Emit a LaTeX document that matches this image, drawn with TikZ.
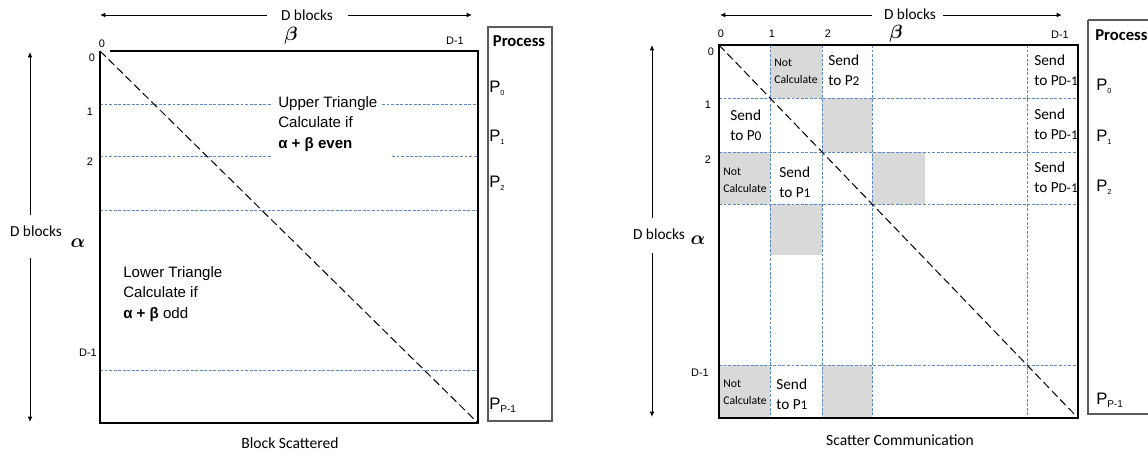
\documentclass[tikz,border=0pt]{standalone}
\usepackage{amsmath}
\usepackage{fontspec}
\setmainfont{Carlito}
\newfontfamily\arialf{Liberation Sans}
\usetikzlibrary{arrows.meta}
\definecolor{gridblue}{RGB}{91,137,203}
\definecolor{cellgray}{RGB}{217,217,217}
\definecolor{boxgray}{RGB}{90,90,90}
\newcommand\procP[1]{P\raisebox{-0.35ex}{\fontsize{5.5}{5.5}\selectfont #1}}
\newcommand\procPl[1]{P\raisebox{-0.3ex}{\fontsize{7.5}{7.5}\selectfont #1}}
\newcommand\toP[1]{to P{\fontsize{10}{10}\selectfont #1}}
\begin{document}
\begin{tikzpicture}[x=0.75pt,y=-0.75pt,
  lbl/.style={inner sep=0pt, font=\arialf\fontsize{8.2}{9}\selectfont},
  dtxt/.style={inner sep=0pt, font=\fontsize{11.5}{13}\selectfont},
  sendtxt/.style={inner sep=0pt, anchor=west, align=left, font=\fontsize{11.5}{15}\selectfont},
  nottxt/.style={inner sep=0pt, anchor=west, align=left, font=\fontsize{8.8}{12.75}\selectfont},
  tritxt/.style={inner sep=0pt, anchor=west, align=left, font=\arialf\fontsize{11.3}{15.5}\selectfont},
  proctxt/.style={inner sep=0pt, font=\bfseries\fontsize{12.5}{14}\selectfont},
  ptxt/.style={inner sep=0pt, anchor=west, font=\arialf\fontsize{12.5}{14}\selectfont},
  captxt/.style={inner sep=0pt, font=\fontsize{11.7}{13}\selectfont},
  grk/.style={inner sep=0pt, font=\fontsize{14}{14}\selectfont},
  blk/.style={line width=1.5pt, line join=miter},
  gridl/.style={gridblue, line width=0.75pt, dash pattern=on 2.2pt off 1.2pt},
  diag/.style={black, line width=0.75pt, dash pattern=on 6pt off 3pt},
  axarrow/.style={line width=0.75pt, -{Latex[length=4pt,width=3.5pt]}},
  procbox/.style={draw=boxgray, line width=0.8pt}
]
\useasboundingbox (0,0) rectangle (1148,457);

% ================= LEFT DIAGRAM =================
\coordinate (LTL) at (100,51);
\coordinate (LTR) at (478,51);
\coordinate (LBR) at (478,423);
\coordinate (LBL) at (100,423);

% blue dashed rows
\draw[gridl] (100,104) -- (271,104);
\draw[gridl] (382,104) -- (478,104);
\draw[gridl] (100,156) -- (271,156);
\draw[gridl] (392,156) -- (478,156);
\draw[gridl] (100,210) -- (478,210);
\draw[gridl] (100,370) -- (478,370);

% diagonal
\draw[diag] (LTL) -- (LBR);

% square border
\draw[blk] (110,51) -- (LTR) -- (LBR) -- (LBL) -- (LTL);

% top axis
\node[dtxt] (ldtop) at (307,15) {D blocks};
\coordinate (ltA1) at (267,15);
\coordinate (ltA2) at (100,15);
\coordinate (ltB1) at (348,15);
\coordinate (ltB2) at (472,15);
\draw[axarrow] (ltA1) -- (ltA2);
\draw[axarrow] (ltB1) -- (ltB2);
\node[grk] (lbeta) at (291,36) {$\boldsymbol{\beta}$};
\node[lbl] (lc0) at (102,44) {0};
\node[lbl] (lcD) at (455,41) {D-1};

% left axis
\node[dtxt] (ldleft) at (36,231) {D blocks};
\node[grk] (lalpha) at (78,243) {$\boldsymbol{\alpha}$};
\coordinate (llA1) at (30,215);
\coordinate (llA2) at (30,52);
\coordinate (llB1) at (30,258);
\coordinate (llB2) at (30,422);
\draw[axarrow] (llA1) -- (llA2);
\draw[axarrow] (llB1) -- (llB2);
\node[lbl] (lr0) at (92,58) {0};
\node[lbl] (lr1) at (90,112) {1};
\node[lbl] (lr2) at (90,162) {2};
\node[lbl] (lrD) at (88,353) {D-1};

% triangle texts
\node[tritxt] (lupper) at (278,124) {Upper Triangle\\Calculate if\\\textbf{α + β even}};
\node[tritxt] (llower) at (123,294) {Lower Triangle\\Calculate if\\\textbf{α + β} odd};

% process box
\draw[procbox] (488,27) rectangle (552,421);
\node[proctxt] (lproc) at (519,41) {Process};
\node[ptxt] (lp0) at (489,88) {\procP{0}};
\node[ptxt] (lp1) at (489,137) {\procP{1}};
\node[ptxt] (lp2) at (489,183) {\procP{2}};
\node[ptxt] (lpP) at (489,405) {\procPl{P-1}};

\node[captxt] (lcap) at (290,443) {Block Scattered};

% ================= RIGHT DIAGRAM =================
\coordinate (RTL) at (719,45);
\coordinate (RTR) at (1078,45);
\coordinate (RBR) at (1078,418);
\coordinate (RBL) at (719,418);

% gray cells
\fill[cellgray] (770,45) rectangle (822,98);
\fill[cellgray] (822,98) rectangle (872,152);
\fill[cellgray] (719,152) rectangle (770,204);
\fill[cellgray] (872,152) rectangle (925,204);
\fill[cellgray] (770,204) rectangle (822,255);
\fill[cellgray] (719,365) rectangle (770,418);
\fill[cellgray] (822,365) rectangle (872,418);

% grid
\foreach \gx in {770,822,872,1027} {\draw[gridl] (\gx,45) -- (\gx,418);}
\foreach \gy in {98,152,204,365} {\draw[gridl] (719,\gy) -- (1078,\gy);}

% diagonal
\draw[diag] (RTL) -- (RBR);

% border
\draw[blk] (RTR) -- (RBR) -- (RBL) -- (RTL) -- cycle;

% top axis
\node[dtxt] (rdtop) at (910,14) {D blocks};
\coordinate (rtA1) at (872,15);
\coordinate (rtA2) at (720,15);
\coordinate (rtB1) at (943,15);
\coordinate (rtB2) at (1062,15);
\draw[axarrow] (rtA1) -- (rtA2);
\draw[axarrow] (rtB1) -- (rtB2);
\node[grk] (rbeta) at (896,34) {$\boldsymbol{\beta}$};
\node[lbl] (rc0) at (721,34) {0};
\node[lbl] (rc1) at (772,34) {1};
\node[lbl] (rc2) at (828,34) {2};
\node[lbl] (rcD) at (1060,35) {D-1};

% left axis
\node[dtxt] (rdleft) at (659,234) {D blocks};
\node[grk] (ralpha) at (698,240) {$\boldsymbol{\alpha}$};
\coordinate (rlA1) at (652,218);
\coordinate (rlA2) at (652,45);
\coordinate (rlB1) at (652,253);
\coordinate (rlB2) at (652,417);
\draw[axarrow] (rlA1) -- (rlA2);
\draw[axarrow] (rlB1) -- (rlB2);
\node[lbl] (rr0) at (711,52) {0};
\node[lbl] (rr1) at (708,105) {1};
\node[lbl] (rr2) at (708,160) {2};
\node[lbl] (rrD) at (700,373) {D-1};

% cell texts
\node[nottxt] (nc1) at (774,71.5) {Not\\Calculate};
\node[sendtxt] (s1) at (828,70) {Send\\\toP{2}};
\node[sendtxt] (s2) at (730,125) {Send\\\toP{0}};
\node[nottxt] (nc2) at (723,180) {Not\\Calculate};
\node[sendtxt] (s3) at (779,182) {Send\\\toP{1}};
\node[sendtxt] (s4) at (1034,70) {Send\\\toP{D-1}};
\node[sendtxt] (s5) at (1034,124) {Send\\\toP{D-1}};
\node[sendtxt] (s6) at (1034,177) {Send\\\toP{D-1}};
\node[nottxt] (nc3) at (723,392) {Not\\Calculate};
\node[sendtxt] (s7) at (776,394) {Send\\\toP{1}};

% process box
\draw[procbox] (1088,20) -- (1088,414) -- (1160,414);
\draw[procbox] (1088,20) -- (1160,20);
\node[proctxt, anchor=west] (rproc) at (1095,35) {Process};
\node[ptxt] (rp0) at (1096,86) {\procP{0}};
\node[ptxt] (rp1) at (1096,137) {\procP{1}};
\node[ptxt] (rp2) at (1096,187) {\procP{2}};
\node[ptxt] (rpP) at (1096,400) {\procPl{P-1}};

\node[captxt] (rcap) at (900,440) {Scatter Communication};
\end{tikzpicture}
\end{document}
